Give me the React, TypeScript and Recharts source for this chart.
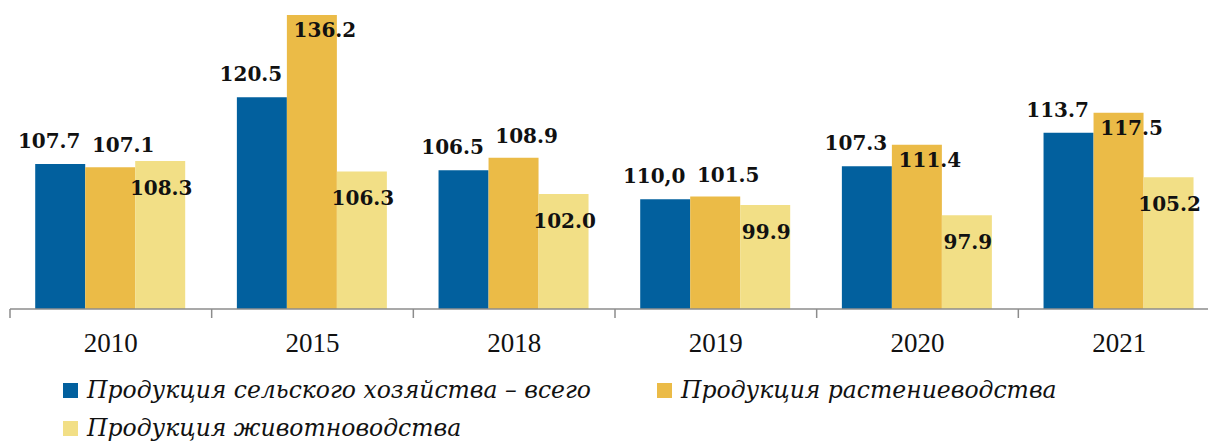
import React from 'react';
import { BarChart, Bar, XAxis, YAxis, Legend, LabelList } from 'recharts';

const categories = ['2010', '2015', '2018', '2019', '2020', '2021'];
const totalValues = [107.7, 120.5, 106.5, 101.0, 107.3, 113.7];
// the source prints "110,0" over a bar that is drawn at about 101
const totalLabels = ['107.7', '120.5', '106.5', '110,0', '107.3', '113.7'];
const cropValues = [107.1, 136.2, 108.9, 101.5, 111.4, 117.5];
const livestockValues = [108.3, 106.3, 102.0, 99.9, 97.9, 105.2];
const seriesNames = [
  'Продукция сельского хозяйства – всего',
  'Продукция растениеводства',
  'Продукция животноводства',
];

const colors = ['#02609E', '#EBBB47', '#F2DF86'];
const FONT = '"DejaVu Serif", serif';
const TICK_FONT = '"Liberation Serif", serif';

const CHART_W = 1232;
const CHART_H = 441;
const MARGIN = { top: 15, right: 12, left: 10, bottom: 0 };
const BAND = (CHART_W - MARGIN.left - MARGIN.right) / categories.length;

const data = categories.map((year, i) => ({
  year,
  total: totalValues[i],
  crop: cropValues[i],
  livestock: livestockValues[i],
}));

const labelStyle = { fontFamily: FONT, fontWeight: 700, fontSize: 20, fill: '#111' };

const TotalLabel = (p: any) => (
  <text x={p.x + p.width / 2 - 11} y={p.y - 16} textAnchor="middle" {...labelStyle}>
    {totalLabels[p.index]}
  </text>
);

const CropLabel = (p: any) => {
  // labels sit inside the bar when it clearly tops the blue one
  const inside = cropValues[p.index] - totalValues[p.index] > 3;
  return (
    <text x={p.x + p.width / 2 + 13} y={inside ? p.y + 22 : p.y - 15} textAnchor="middle" {...labelStyle}>
      {cropValues[p.index].toFixed(1)}
    </text>
  );
};

const LivestockLabel = (p: any) => (
  <text x={p.x + p.width / 2 + 1} y={p.y + 34} textAnchor="middle" {...labelStyle}>
    {livestockValues[p.index].toFixed(1)}
  </text>
);

const YearTick = (props: any) => {
  const { x, y, payload } = props;
  const left = x - BAND / 2;
  return (
    <g>
      <line x1={left} y1={y} x2={left} y2={y + 9} stroke="#8c8c8c" strokeWidth={1.5} />
      <text x={x} y={y + 43} textAnchor="middle" fontFamily={TICK_FONT} fontSize={27} fill="#111">
        {payload.value}
      </text>
    </g>
  );
};

const LegendContent = () => (
  <div style={{ height: 76, fontFamily: FONT, fontStyle: 'italic', fontSize: 23.5, color: '#111' }}>
    <div
      style={{
        position: 'relative',
        top: 6,
        display: 'grid',
        gridTemplateColumns: '594px 560px',
        paddingLeft: 63,
      }}
    >
      {seriesNames.map((name, i) => (
        <div key={name} style={{ display: 'flex', alignItems: 'center', height: 38, whiteSpace: 'nowrap' }}>
          <span style={{ width: 15, height: 15, background: colors[i], marginRight: 9, display: 'inline-block' }} />
          <span>{name}</span>
        </div>
      ))}
    </div>
  </div>
);

export default function App() {
  return (
    <div style={{ position: 'fixed', left: 0, top: 0, width: 1208, height: 441, overflow: 'hidden', background: '#fff' }}>
      <BarChart width={CHART_W} height={CHART_H} data={data} margin={MARGIN} barCategoryGap="12.5%" barGap={0}>
        <XAxis
          dataKey="year"
          axisLine={{ stroke: '#8c8c8c', strokeWidth: 1.5 }}
          tickLine={false}
          tickSize={0}
          tickMargin={0}
          height={56}
          tick={<YearTick />}
          interval={0}
        />
        <YAxis hide domain={[80, 136.2]} />
        <Legend verticalAlign="bottom" content={<LegendContent />} wrapperStyle={{ left: 0, width: 1208 }} />
        <Bar dataKey="total" name={seriesNames[0]} fill={colors[0]} isAnimationActive={false}>
          <LabelList dataKey="total" content={<TotalLabel />} />
        </Bar>
        <Bar dataKey="crop" name={seriesNames[1]} fill={colors[1]} isAnimationActive={false}>
          <LabelList dataKey="crop" content={<CropLabel />} />
        </Bar>
        <Bar dataKey="livestock" name={seriesNames[2]} fill={colors[2]} isAnimationActive={false}>
          <LabelList dataKey="livestock" content={<LivestockLabel />} />
        </Bar>
      </BarChart>
    </div>
  );
}
